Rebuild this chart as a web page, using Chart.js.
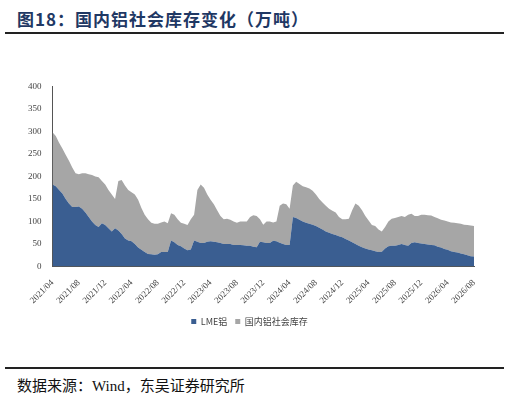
<!DOCTYPE html>
<html>
<head>
<meta charset="utf-8">
<script src="https://cdn.jsdelivr.net/npm/chart.js@4.4.1/dist/chart.umd.min.js"></script>
<style>
  body { margin: 0; width: 510px; height: 402px; background: #fff; position: relative; overflow: hidden; }
  #title { position: absolute; left: 17px; top: 6px; font: bold 17px "Noto Sans CJK SC", serif; color: #1f3864; letter-spacing: 1px; }
  .rule { position: absolute; left: 5px; width: 499px; height: 2px; background: #222; }
  #src { position: absolute; left: 17px; top: 374px; font: 15px "Liberation Serif", "Noto Sans CJK SC", serif; color: #111; }
  #wrap { position: absolute; left: 0; top: 78px; width: 500px; height: 258px; }
</style>
</head>
<body>
<div id="title">图18：国内铝社会库存变化（万吨）</div>
<div class="rule" style="top:32px"></div>
<div id="wrap"><canvas id="chart"></canvas></div>
<div class="rule" style="top:367px"></div>
<div id="src">数据来源：Wind，东吴证券研究所</div>
<script>
/* semi-monthly points, 2021/04 .. 2026/08 */
const START_YEAR = 2021, START_MONTH = 4;

// LME aluminium stock (万吨)
const lme = [
  182,178, 170,162, 150,140, 132,132, 133,128, 120,110, 100,92, 88,96, 92,85,
  78,85, 80,72, 62,58, 56,50, 42,37, 32,28, 27,26, 27,32, 32,32, 58,54, 48,45, 40,36,
  38,58, 55,52, 52,55, 56,55, 54,52, 50,50, 50,48, 48,48, 47,46, 46,44, 43,55, 54,52,
  52,57, 56,53, 50,48, 48,110, 108,104, 100,97, 95,93, 90,86, 82,78, 75,72, 70,67, 65,61,
  58,54, 50,46, 43,40, 38,36, 34,32, 33,40, 45,46, 46,48, 50,48, 46,52, 54,52, 51,50,
  49,48, 47,44, 42,39, 37,34, 32,31, 29,27, 25,23, 22
];

// top of stack = LME + 国内铝社会库存 (万吨)
const total = [
  298,290, 275,262, 248,235, 220,207, 205,207, 207,205, 203,200, 198,190, 182,170,
  160,150, 190,192, 180,170, 165,160, 148,130, 115,105, 97,95, 95,98, 100,96, 118,115, 105,97, 95,92,
  105,115, 170,182, 175,160, 148,138, 125,112, 105,106, 104,100, 97,100, 100,100, 110,114, 112,105, 93,100,
  100,98, 100,135, 140,138, 128,180, 188,183, 178,176, 173,168, 160,150, 142,135, 128,124, 120,110, 105,105,
  106,125, 140,135, 125,112, 102,92, 90,82, 78,88, 100,106, 108,110, 112,110, 115,117, 112,112, 115,115,
  114,113, 110,107, 104,102, 100,98, 97,96, 95,93, 92,91, 90
];

const domestic = total.map(function(t, i) { return t - lme[i]; });

const labels = lme.map(function(v, i) {
  var m = START_MONTH - 1 + Math.floor(i / 2);
  var y = START_YEAR + Math.floor(m / 12);
  var mm = (m % 12) + 1;
  return y + '/' + (mm < 10 ? '0' + mm : mm);
});

const TICK_FONT = { family: '"Liberation Serif", serif', size: 9 };

new Chart(document.getElementById('chart'), {
  type: 'line',
  data: {
    labels: labels,
    datasets: [{
      label: 'LME铝',
      data: lme,
      backgroundColor: '#3a5e91',
      borderWidth: 0, pointRadius: 0, fill: 'origin'
    }, {
      label: '国内铝社会库存',
      data: domestic,
      backgroundColor: '#a6a6a6',
      borderWidth: 0, pointRadius: 0, fill: '-1'
    }]
  },
  options: {
    animation: false,
    responsive: true,
    maintainAspectRatio: false,
    layout: { padding: { left: 25, right: 26, top: 4, bottom: 0 } },
    scales: {
      x: {
        stacked: true,
        offset: false,
        grid: { display: false, drawTicks: true },
        border: { color: '#555' },
        ticks: {
          autoSkip: false, maxRotation: 45, minRotation: 45, color: '#444', font: TICK_FONT,
          callback: function(v, i) { return i % 8 === 0 ? labels[i] : ''; }
        }
      },
      y: {
        stacked: true, min: 0, max: 400,
        grid: { display: false },
        border: { color: '#555' },
        ticks: { stepSize: 50, color: '#444', font: TICK_FONT }
      }
    },
    plugins: {
      legend: {
        position: 'bottom',
        labels: { boxWidth: 5, boxHeight: 5, padding: 8, color: '#444',
          font: { family: '"Noto Sans CJK SC", serif', size: 9 } }
      },
      tooltip: { enabled: false }
    }
  }
});
</script>
</body>
</html>
